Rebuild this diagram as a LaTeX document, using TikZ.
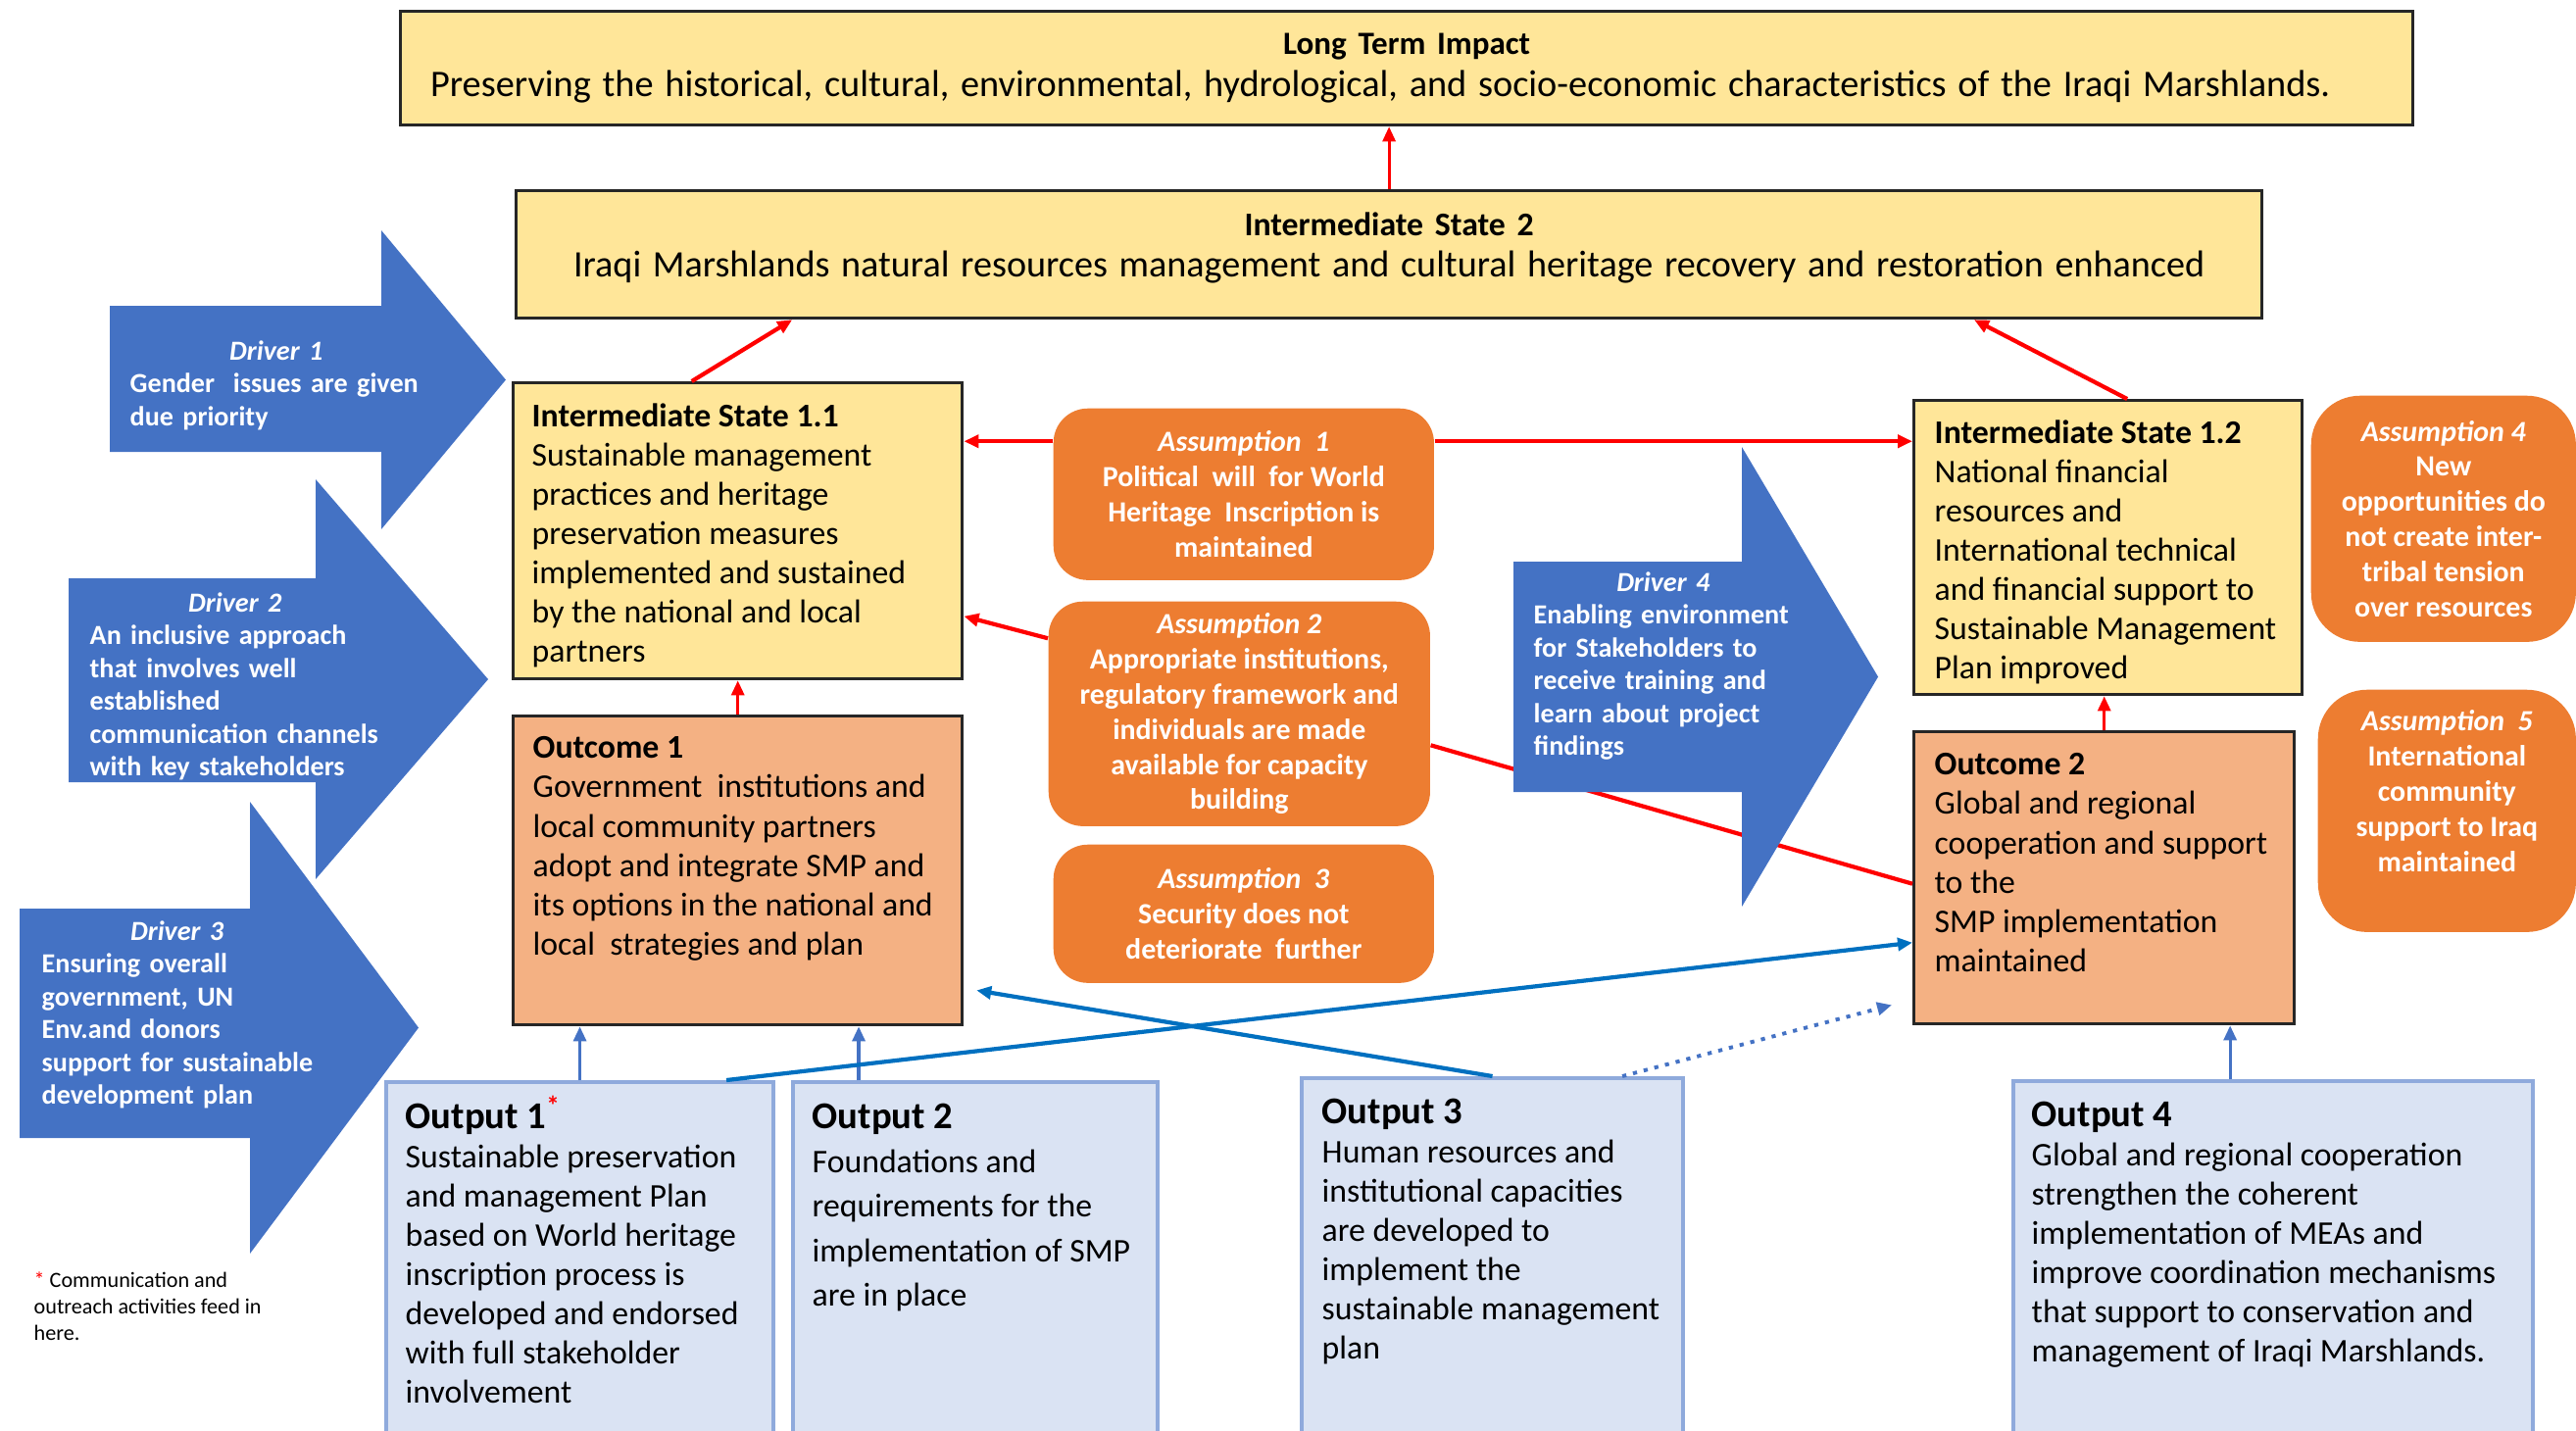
\documentclass[tikz,border=0pt]{standalone}
\usepackage{fontspec}
\setmainfont{Carlito}
\usetikzlibrary{arrows.meta}

\definecolor{stateyellow}{HTML}{FFE699}
\definecolor{outcomeorange}{HTML}{F4B183}
\definecolor{assumorange}{HTML}{ED7D31}
\definecolor{driverblue}{HTML}{4472C4}
\definecolor{outputfill}{HTML}{DAE3F3}
\definecolor{outputline}{HTML}{8FAADC}
\definecolor{linkblue}{HTML}{0070C0}

\tikzset{
  statebox/.style={draw=black!85, line width=0.9pt, fill=stateyellow, anchor=north west, inner sep=0pt},
  outcomebox/.style={statebox, fill=outcomeorange},
  assumbox/.style={fill=assumorange, rounded corners=0.35cm, anchor=north west, inner sep=0pt,
    text=white, align=center, font=\fontsize{8.5}{10.2}\selectfont\bfseries},
  outputbox/.style={draw=outputline, line width=1.1pt, fill=outputfill, anchor=north west, inner sep=0pt},
  boxtext/.style={anchor=north west, inner sep=0pt, align=left, font=\fontsize{9.6}{11.4}\selectfont},
  drivertext/.style={anchor=north west, inner sep=0pt, align=left, text=white, text width=3.3cm,
    font=\fontsize{8}{9.5}\selectfont\bfseries},
  redarrow/.style={draw=red, line width=1.2pt, -{Triangle[length=0.15cm, width=0.13cm]}},
  bluearrow/.style={draw=linkblue, line width=1.2pt, -{Triangle[length=0.15cm, width=0.13cm]}},
}

\begin{document}
\begin{tikzpicture}[x=0.01cm, y=-0.01cm]
\useasboundingbox (0,0) rectangle (2628,1459);

% Impact and states
\node[statebox, minimum width=20.52cm, minimum height=1.16cm, text width=20.52cm, align=center] (lti) at (407,10)
  {{\fontsize{9.4}{11}\selectfont\bfseries Long Term Impact\par}
   \fontsize{10.9}{12.5}\selectfont Preserving the historical, cultural, environmental, hydrological, and socio-economic characteristics of the Iraqi Marshlands.\hspace*{0.54cm}\null};
\node[statebox, minimum width=17.80cm, minimum height=1.30cm, text width=17.80cm, align=center, text depth=0.62cm] (is2) at (525,193)
  {{\fontsize{9.6}{11}\selectfont\bfseries Intermediate State 2\par}
   \fontsize{10.85}{12.5}\selectfont Iraqi Marshlands natural resources management and cultural heritage recovery and restoration enhanced};

\node[statebox, minimum width=4.58cm, minimum height=3.02cm] (is11) at (522,389) {};
\node[boxtext] (is11txt) at ([shift={(20,22)}]is11.north west)
  {\textbf{Intermediate State 1.1}\\ Sustainable management\\ practices and heritage\\ preservation measures\\
   implemented and sustained\\ by the national and local\\ partners};

\node[statebox, minimum width=3.96cm, minimum height=3.00cm] (is12) at (1951,407) {};
\node[boxtext] (is12txt) at ([shift={(22,21)}]is12.north west)
  {\textbf{Intermediate State 1.2}\\ National financial\\ resources and\\ International technical\\
   and financial support to\\ Sustainable Management\\ Plan improved};

% Outcomes
\node[outcomebox, minimum width=4.58cm, minimum height=3.15cm] (oc1) at (522,729) {};
\node[boxtext] (oc1txt) at ([shift={(21,22)}]oc1.north west)
  {\textbf{Outcome 1}\\ Government \ institutions and\\ local community partners\\ adopt and integrate SMP and\\
   its options in the national and\\ local \ strategies and plan};

\node[outcomebox, minimum width=3.88cm, minimum height=2.98cm] (oc2) at (1951,745) {};
\node[boxtext] (oc2txt) at ([shift={(22,23)}]oc2.north west)
  {\textbf{Outcome 2}\\ Global and regional\\ cooperation and support\\ to the\\ SMP implementation\\ maintained};

% Assumptions
\node[assumbox, minimum width=3.88cm, minimum height=1.75cm] (as1) at (1074,416)
  {\textit{Assumption \ 1}\\ Political \ will \ for World\\ Heritage \ Inscription is\\ maintained};
\node[assumbox, minimum width=3.89cm, minimum height=2.29cm] (as2) at (1069,613)
  {\textit{Assumption 2}\\ Appropriate institutions,\\ regulatory framework and\\ individuals are made\\ available for capacity\\ building};
\node[assumbox, minimum width=3.88cm, minimum height=1.41cm] (as3) at (1074,861)
  {\textit{Assumption \ 3}\\ Security does not\\ deteriorate \ further};
\node[assumbox, minimum width=2.70cm, minimum height=2.51cm, rounded corners=0.5cm] (as4) at (2357,403)
  {\textit{Assumption 4}\\ New\\ opportunities do\\ not create inter-\\ tribal tension\\ over resources};
\node[assumbox, minimum width=2.63cm, minimum height=2.47cm, rounded corners=0.5cm, text depth=0.41cm] (as5) at (2364,703)
  {\textit{Assumption \ 5}\\ International\\ community\\ support to Iraq\\ maintained};

% Outputs
\node[outputbox, minimum width=3.95cm, minimum height=3.68cm] (op1) at (392,1102) {};
\node[boxtext] (op1txt) at ([shift={(21,23)}]op1.north west)
  {{\fontsize{11}{13}\selectfont\bfseries Output 1\textcolor{red}{\smash{\textsuperscript{*}}}}\\ Sustainable preservation\\
   and management Plan\\ based on World heritage\\ inscription process is\\ developed and endorsed\\
   with full stakeholder\\ involvement};
\node[outputbox, minimum width=3.72cm, minimum height=3.68cm] (op2) at (807,1102) {};
\node[boxtext, font=\fontsize{9.6}{12.9}\selectfont] (op2txt) at ([shift={(21,23)}]op2.north west)
  {{\fontsize{11}{13}\selectfont\bfseries Output 2}\\ Foundations and\\ requirements for the\\
   implementation of SMP\\ are in place};
\node[outputbox, minimum width=3.89cm, minimum height=3.72cm] (op3) at (1326,1098) {};
\node[boxtext] (op3txt) at ([shift={(22,22)}]op3.north west)
  {{\fontsize{11}{13}\selectfont\bfseries Output 3}\\ Human resources and\\ institutional capacities\\
   are developed to\\ implement the\\ sustainable management\\ plan};
\node[outputbox, minimum width=5.30cm, minimum height=3.69cm] (op4) at (2052,1101) {};
\node[boxtext] (op4txt) at ([shift={(20,22)}]op4.north west)
  {{\fontsize{11}{13}\selectfont\bfseries Output 4}\\ Global and regional cooperation\\ strengthen the coherent\\
   implementation of MEAs and\\ improve coordination mechanisms\\ that support to conservation and\\
   management of Iraqi Marshlands.};

% Note
\node[anchor=north west, inner sep=0pt, align=left, font=\fontsize{6.3}{7.7}\selectfont] (note) at (34,1297)
  {\textcolor{red}{*} Communication and\\ outreach activities feed in\\ here.};

% Red links
\draw[redarrow, line width=0.8pt] (is2.north) -- (is2.north |- lti.south);
\draw[redarrow] ([xshift=-0.47cm]is11.north) -- ([xshift=2.83cm]is2.south west);
\draw[redarrow] ([xshift=2.19cm]is12.north west) -- ([xshift=-2.95cm]is2.south east);
\draw[redarrow, line width=0.9pt] (oc1.north) -- (is11.south);
\draw[redarrow, line width=0.9pt] (oc2.north) -- (oc2.north |- is12.south);
\coordinate (as1l) at ([yshift=0.54cm]as1.west);
\coordinate (as1r) at ([yshift=0.54cm]as1.east);
\draw[redarrow] (as1l) -- (as1l -| is11.east);
\draw[redarrow] (as1r) -- (as1r -| is12.west);
\draw[redarrow] ([yshift=0.77cm]as2.west) -- ([yshift=-0.87cm]is11.east);
\draw[draw=red, line width=1.2pt] ([yshift=-0.32cm]as2.east) -- ([yshift=-0.06cm]oc2.west);

% Blue links
\draw[bluearrow, draw=driverblue, line width=0.9pt] (op1.north) -- (op1.north |- oc1.south);
\coordinate (op2top) at ([xshift=0.69cm]op2.north west);
\draw[bluearrow, draw=driverblue, line width=0.9pt] (op2top) -- (op2top |- oc1.south);
\draw[bluearrow] ([xshift=-0.5cm]op1.north east) -- ([yshift=-0.66cm]oc2.west);
\draw[bluearrow, shorten >=0.13cm] (op3.north) -- ([yshift=-1.2cm]oc1.east);
\draw[bluearrow, draw=driverblue, dotted, line width=1.1pt] ([xshift=-0.64cm]op3.north east) -- ([shift={(-0.21cm,0.21cm)}]oc2.south west);
\coordinate (op4top) at ([xshift=2.23cm]op4.north west);
\draw[bluearrow, draw=driverblue, line width=0.9pt] (op4top) -- (op4top |- oc2.south);

% Drivers
\foreach \l/\n/\t/\b/\ht/\hb/\tx in {112/389/312/461/235/540/516, 70/322/590/798/489/897/498,
    20/255/927/1161/818/1279/427, 1544/1777/573/808/456/925/1916}
  \fill[driverblue] (\l,\t) -- (\n,\t) -- (\n,\ht) -- (\tx,{(\ht+\hb)/2}) -- (\n,\hb) -- (\n,\b) -- (\l,\b) -- cycle;

\node[drivertext] (drv1) at (132,347)
  {\makebox[2.98cm]{\textit{Driver 1}}\\ Gender \ issues are given\\ due priority};
\node[drivertext] (drv2) at (91,604)
  {\makebox[2.96cm]{\textit{Driver 2}}\\ An inclusive approach\\ that involves well\\ established\\ communication channels\\ with key stakeholders};
\node[drivertext] (drv3) at (42,939)
  {\makebox[2.76cm]{\textit{Driver 3}}\\ Ensuring overall\\ government, UN\\ Env.and donors\\ support for sustainable\\ development plan};
\node[drivertext] (drv4) at (1564,583)
  {\makebox[2.64cm]{\textit{Driver 4}}\\ Enabling environment\\ for Stakeholders to\\ receive training and\\ learn about project\\ findings};
\end{tikzpicture}
\end{document}
